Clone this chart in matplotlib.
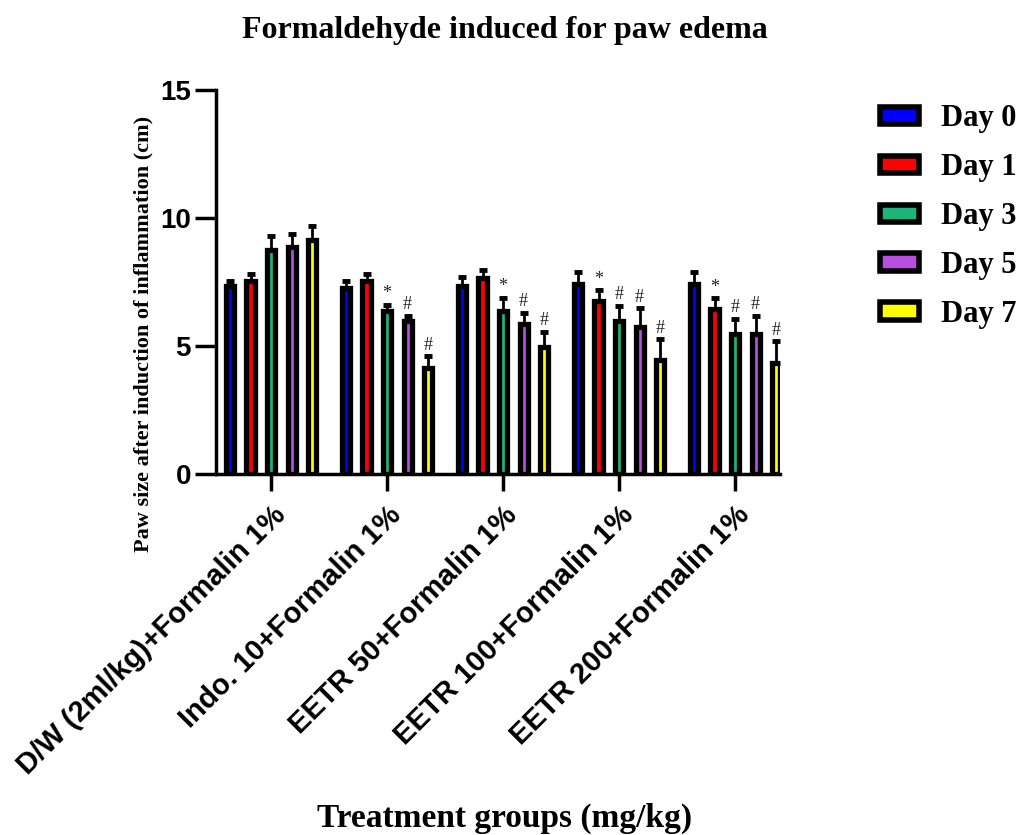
import numpy as np
import matplotlib.pyplot as plt
from matplotlib.patches import Patch

groups = ["D/W (2ml/kg)+Formalin 1%", "Indo. 10+Formalin 1%", "EETR 50+Formalin 1%",
          "EETR 100+Formalin 1%", "EETR 200+Formalin 1%"]
days = ["Day 0", "Day 1", "Day 3", "Day 5", "Day 7"]
colors = ["#0000ff", "#ff0000", "#1db47a", "#b84fe0", "#ffff00"]

# mean paw size per group, one list per day
day0 = [7.35, 7.27, 7.35, 7.45, 7.45]
day1 = [7.55, 7.55, 7.65, 6.77, 6.45]
day3 = [8.77, 6.37, 6.37, 5.97, 5.47]
day5 = [8.86, 5.98, 5.88, 5.76, 5.47]
day7 = [9.15, 4.17, 4.96, 4.46, 4.35]

err0 = [0.18, 0.26, 0.35, 0.43, 0.43]
err1 = [0.26, 0.26, 0.33, 0.42, 0.42]
err3 = [0.55, 0.25, 0.52, 0.60, 0.61]
err5 = [0.54, 0.22, 0.43, 0.73, 0.72]
err7 = [0.56, 0.44, 0.61, 0.82, 0.84]

marks0 = ["", "", "", "", ""]
marks1 = ["", "", "", "*", "*"]
marks3 = ["", "*", "*", "#", "#"]
marks5 = ["", "#", "#", "#", "#"]
marks7 = ["", "#", "#", "#", "#"]

means = [day0, day1, day3, day5, day7]
errs = [err0, err1, err3, err5, err7]
marks = [marks0, marks1, marks3, marks5, marks7]

fig = plt.figure(figsize=(10.24, 8.35), dpi=100)
ax = fig.add_axes([0.211, 0.432, 0.551, 0.46])

x = np.arange(len(groups))
step = 0.177
w = 0.07
for i in range(len(days)):
    pos = x + (i - 2) * step
    ax.bar(pos, means[i], width=w, color=colors[i], edgecolor="black", linewidth=3.8, zorder=3)
    ax.errorbar(pos, means[i], yerr=[np.zeros(5), errs[i]], fmt="none", ecolor="black",
                elinewidth=2, capsize=3, capthick=3.5, zorder=2)
    for j in range(len(groups)):
        if marks[i][j]:
            ax.text(pos[j], means[i][j] + errs[i][j] + 0.1, marks[i][j], ha="center", va="bottom",
                    fontsize=13, family="Liberation Serif", color="#222222")

ax.set_ylim(0, 15)
ax.set_xlim(-0.474, 4.39)
ax.set_yticks([0, 5, 10, 15])
ax.set_xticks(x)
ax.set_xticklabels(groups, rotation=45, ha="right", rotation_mode="anchor",
                   fontsize=21, fontweight="bold", family="Liberation Sans")
for lab in ax.get_yticklabels():
    lab.set_fontsize(20)
    lab.set_fontweight("bold")
    lab.set_family("Liberation Sans")
ax.tick_params(axis="y", width=2.5, length=15, pad=3)
ax.tick_params(axis="x", width=2.5, length=12, pad=7)
for s in ["top", "right"]:
    ax.spines[s].set_visible(False)
for s in ["left", "bottom"]:
    ax.spines[s].set_linewidth(2.5)

fig.text(0.14, 0.6, "Paw size after induction of inflammation (cm)", rotation=90,
         ha="center", va="center", fontsize=16, fontweight="bold", family="Liberation Serif")
fig.text(0.493, 0.963, "Formaldehyde induced for paw edema", ha="center", va="center",
         fontsize=23, fontweight="bold", family="Liberation Serif")
fig.text(0.493, 0.02, "Treatment groups (mg/kg)", ha="center", va="center",
         fontsize=24, fontweight="bold", family="Liberation Serif")

handles = [Patch(facecolor=c, edgecolor="black", linewidth=4) for c in colors]
fig.legend(handles, days, loc="upper left", bbox_to_anchor=(0.859, 0.875), frameon=False,
           borderpad=0, borderaxespad=0,
           prop={"family": "Liberation Serif", "weight": "bold", "size": 22},
           handlelength=1.3, handleheight=0.5, labelspacing=0.65, handletextpad=0.7)

fig.savefig("out.png", dpi=100)
